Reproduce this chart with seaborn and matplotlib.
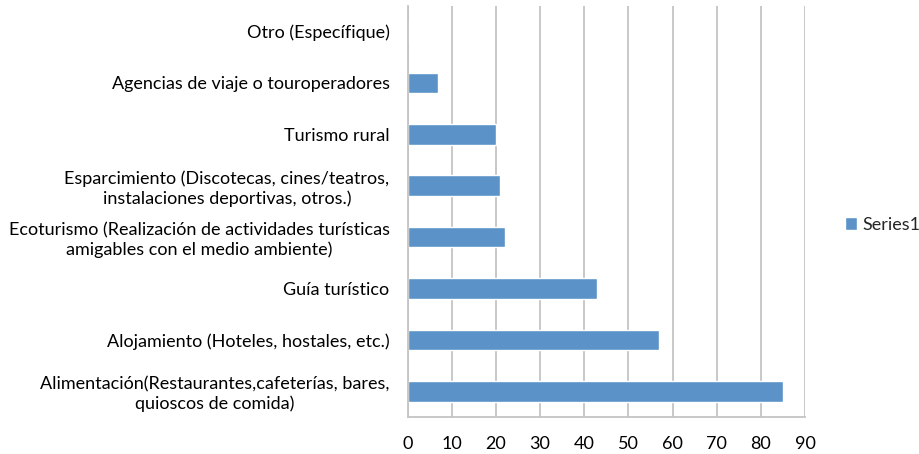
import matplotlib
matplotlib.use("Agg")
import matplotlib.pyplot as plt
import seaborn as sns
import pandas as pd

categories = [
    "Otro (Específique)",
    "Agencias de viaje o touroperadores",
    "Turismo rural",
    "Esparcimiento (Discotecas, cines/teatros,\ninstalaciones deportivas, otros.)",
    "Ecoturismo (Realización de actividades turísticas\namigables con el medio ambiente)",
    "Guía turístico",
    "Alojamiento (Hoteles, hostales, etc.)",
    "Alimentación(Restaurantes,cafeterías, bares,\nquioscos de comida)",
]
values = [0, 7, 20, 21, 22, 43, 57, 85]
series_name = "Series1"
x_ticks = list(range(0, 100, 10))

BAR_COLOR = "#5b93c9"
GRID_COLOR = "#c4c4c4"


def main():
    sns.set_style("white")
    plt.rcParams["font.family"] = ["Lato", "DejaVu Sans"]

    df = pd.DataFrame({"categoria": categories, "valor": values})

    fig = plt.figure(figsize=(9.2, 4.54), dpi=100)
    ax = fig.add_axes([0.443, 0.0815, 0.432, 0.9055])

    sns.barplot(data=df, y="categoria", x="valor", orient="h",
                color=BAR_COLOR, width=0.4, saturation=1,
                label=series_name, ax=ax)

    ax.set_xlim(0, 90)
    ax.set_xticks(x_ticks)
    ax.set_xlabel("")
    ax.set_ylabel("")
    ax.grid(axis="x", color=GRID_COLOR, linewidth=1.3)
    ax.set_axisbelow(True)
    for side in ["top", "right"]:
        ax.spines[side].set_visible(False)
    for side in ["left", "bottom"]:
        ax.spines[side].set_color(GRID_COLOR)
        ax.spines[side].set_linewidth(1.3)

    ax.tick_params(axis="both", length=0, labelsize=13, colors="black")
    ax.tick_params(axis="x", pad=14)
    ax.tick_params(axis="y", pad=13)
    for lbl in ax.get_yticklabels():
        lbl.set_multialignment("center")

    handles, labels = ax.get_legend_handles_labels()
    if ax.get_legend() is not None:
        ax.get_legend().remove()
    fig.legend(handles, labels, loc="center left",
               bbox_to_anchor=(0.918, 1 - 225 / 454), frameon=False,
               handlelength=0.7, handleheight=0.7, handletextpad=0.3,
               fontsize=13, borderaxespad=0, borderpad=0)

    fig.savefig("out.png", dpi=100)
    plt.close(fig)


if __name__ == "__main__":
    main()
